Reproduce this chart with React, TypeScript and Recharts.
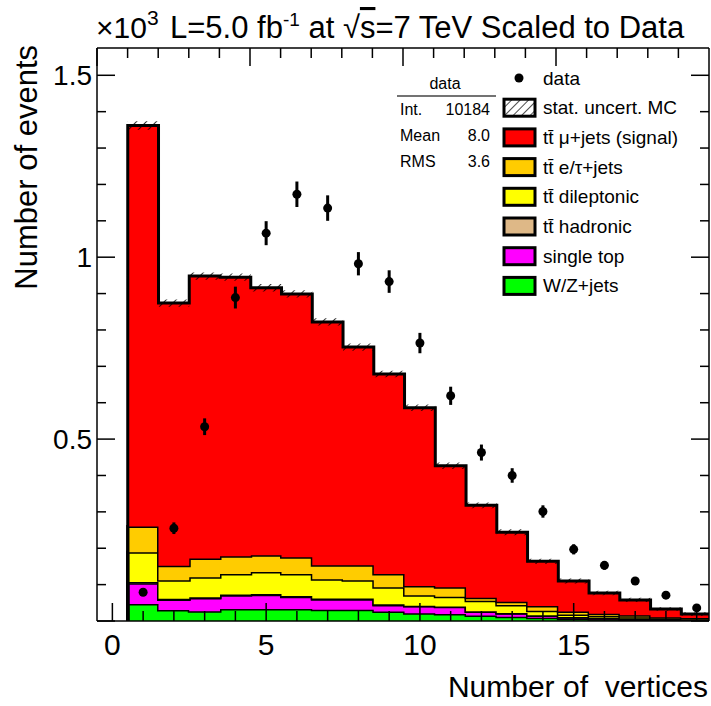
import React from "react"
import { ComposedChart, Area, Scatter, ErrorBar, XAxis, YAxis } from "recharts"

// number of vertices (bin centres), values in units of 10^3 events
const binCenters = [1, 2, 3, 4, 5, 6, 7, 8, 9, 10, 11, 12, 13, 14, 15, 16, 17, 18, 19]

const wzJets = [0.047, 0.030, 0.027, 0.033, 0.033, 0.033, 0.031, 0.031, 0.026, 0.021, 0.019, 0.015, 0.012, 0.009, 0.006, 0.005, 0.003, 0.002, 0.001]
const singleTop = [0.057, 0.029, 0.036, 0.038, 0.039, 0.034, 0.029, 0.029, 0.018, 0.020, 0.020, 0.011, 0.009, 0.006, 0.004, 0.003, 0.003, 0.002, 0.002]
const ttHadronic = [0.003, 0.002, 0.002, 0.002, 0.002, 0.002, 0.002, 0.002, 0.002, 0.001, 0.001, 0.001, 0.001, 0.001, 0.001, 0, 0, 0, 0]
const ttDileptonic = [0.082, 0.051, 0.055, 0.056, 0.061, 0.060, 0.053, 0.050, 0.047, 0.029, 0.027, 0.029, 0.022, 0.012, 0.007, 0.006, 0.004, 0.003, 0.002]
const ttETau = [0.071, 0.040, 0.052, 0.049, 0.046, 0.046, 0.038, 0.041, 0.036, 0.025, 0.026, 0.008, 0.009, 0.013, 0.008, 0.006, 0.006, 0.003, 0.003]
const ttMuJets = [1.102, 0.722, 0.776, 0.767, 0.735, 0.724, 0.669, 0.600, 0.550, 0.490, 0.334, 0.254, 0.191, 0.123, 0.084, 0.057, 0.042, 0.023, 0.011]
const mcStatErr = [0.012, 0.010, 0.010, 0.010, 0.010, 0.010, 0.010, 0.010, 0.009, 0.009, 0.009, 0.008, 0.008, 0.007, 0.007, 0.006, 0.006, 0.005, 0.005]

const dataCounts = [0.079, 0.255, 0.534, 0.889, 1.066, 1.173, 1.135, 0.982, 0.933, 0.764, 0.619, 0.463, 0.400, 0.301, 0.197, 0.153, 0.110, 0.071, 0.036]
const dataErr = [0.009, 0.016, 0.023, 0.030, 0.033, 0.035, 0.035, 0.032, 0.031, 0.028, 0.025, 0.022, 0.020, 0.017, 0.014, 0.012, 0.010, 0.008, 0.006]

const xTicks = [0, 1, 2, 3, 4, 5, 6, 7, 8, 9, 10, 11, 12, 13, 14, 15, 16, 17, 18, 19]
const xLabels = [0, 5, 10, 15]
const yTicks = [0, 0.1, 0.2, 0.3, 0.4, 0.5, 0.6, 0.7, 0.8, 0.9, 1, 1.1, 1.2, 1.3, 1.4, 1.5]
const yMajor = [0, 0.5, 1, 1.5]
const yLabels = [0.5, 1, 1.5]

const legendNames = ["data", "stat. uncert. MC", "tt\u0304 \u03bc+jets (signal)", "tt\u0304 e/\u03c4+jets", "tt\u0304 dileptonic", "tt\u0304 hadronic", "single top", "W/Z+jets"]
const statNames = ["Int.", "Mean", "RMS"]
const statValues = ["10184", "8.0", "3.6"]

const FONT = '"Liberation Sans", Arial, Helvetica, sans-serif'

// bottom of the stack first
const stack = [
  { key: "wz", values: wzJets, color: "#00ff00" },
  { key: "st", values: singleTop, color: "#ff00ff" },
  { key: "had", values: ttHadronic, color: "#deb887" },
  { key: "dil", values: ttDileptonic, color: "#ffff00" },
  { key: "etau", values: ttETau, color: "#ffcc00" },
  { key: "mu", values: ttMuJets, color: "#ff0000" },
]
const legendColors = ["#ff0000", "#ffcc00", "#ffff00", "#deb887", "#ff00ff", "#00ff00"]

// step rows at the lower bin edges (stepAfter), plus a zero row for the left edge
const edgeRows = binCenters.map((c, i) => {
  const row: any = { x: c - 0.5 }
  let total = 0
  stack.forEach(s => {
    row[s.key] = s.values[i]
    total += s.values[i]
  })
  row.band = [total - mcStatErr[i], total + mcStatErr[i]]
  return row
})
const zeroRow: any = { x: binCenters[0] - 0.5, band: null }
stack.forEach(s => (zeroRow[s.key] = 0))
const rows = [zeroRow, ...edgeRows, { ...edgeRows[edgeRows.length - 1], x: binCenters[binCenters.length - 1] + 0.5 }]

const points = binCenters.map((c, i) => ({ x: c, y: dataCounts[i], err: dataErr[i] }))

const BottomTick = (p: any) => {
  const v = p.payload.value
  const major = xLabels.includes(v)
  return (
    <g>
      <line x1={p.x} x2={p.x} y1={p.y} y2={p.y - (major ? 18 : 10)} stroke="#000" strokeWidth={1.5} />
      {major && (
        <text x={p.x} y={p.y + 34} textAnchor="middle" fontSize={30} fontFamily={FONT} fill="#000">
          {v}
        </text>
      )}
    </g>
  )
}

const TopTick = (p: any) => {
  const major = xLabels.includes(p.payload.value)
  return <line x1={p.x} x2={p.x} y1={p.y} y2={p.y + (major ? 18 : 10)} stroke="#000" strokeWidth={1.5} />
}

const LeftTick = (p: any) => {
  const v = p.payload.value
  const major = yMajor.includes(v)
  return (
    <g>
      <line x1={p.x} x2={p.x + (major ? 18 : 9)} y1={p.y} y2={p.y} stroke="#000" strokeWidth={1.5} />
      {yLabels.includes(v) && (
        <text x={p.x - 5} y={p.y + 10} textAnchor="end" fontSize={28} fontFamily={FONT} fill="#000">
          {String(v)}
        </text>
      )}
    </g>
  )
}

const RightTick = (p: any) => {
  const major = yMajor.includes(p.payload.value)
  return <line x1={p.x} x2={p.x - (major ? 18 : 9)} y1={p.y} y2={p.y} stroke="#000" strokeWidth={1.5} />
}

function Overlay() {
  const rowY = (i: number) => 78 + i * 29.7
  return (
    <svg width={711} height={706} style={{ position: "absolute", left: 0, top: 0, pointerEvents: "none" }} fontFamily={FONT}>
      <defs>
        <pattern id="hatchLeg" width="6" height="6" patternUnits="userSpaceOnUse" patternTransform="rotate(45)">
          <line x1="0" y1="0" x2="0" y2="6" stroke="#000" strokeWidth="1.4" />
        </pattern>
      </defs>
      <text x={96} y={38} fontSize={30} fill="#000">
        ×10<tspan dy={-13} fontSize={21}>3</tspan>
      </text>
      <text x={170} y={38} fontSize={31} fill="#000">
        L=5.0 fb<tspan dy={-12} fontSize={19}>-1</tspan>
        <tspan dy={12}> at √</tspan>
        <tspan textDecoration="overline">s</tspan>=7 TeV Scaled to Data
      </text>
      <text x={708} y={697} textAnchor="end" fontSize={30} fill="#000" style={{ whiteSpace: "pre" }}>
        Number of  vertices
      </text>
      <text transform="translate(37,45) rotate(-90)" x={0} y={0} textAnchor="end" fontSize={31} fill="#000">
        Number of events
      </text>

      {/* statistics box */}
      <text x={445} y={83} textAnchor="middle" dominantBaseline="central" fontSize={16} fill="#000">data</text>
      <line x1={397} x2={496} y1={96} y2={96} stroke="#444" strokeWidth={1.5} />
      {statNames.map((n, i) => (
        <g key={n}>
          <text x={400} y={109 + i * 26} dominantBaseline="central" fontSize={16} fill="#000">{n}</text>
          <text x={490} y={109 + i * 26} textAnchor="end" dominantBaseline="central" fontSize={16} fill="#000">{statValues[i]}</text>
        </g>
      ))}

      {/* legend */}
      <circle cx={519} cy={rowY(0)} r={4.5} fill="#000" />
      <rect x={504} y={rowY(1) - 8.5} width={31} height={17} fill="url(#hatchLeg)" stroke="#000" strokeWidth={3} />
      {legendColors.map((c, i) => (
        <rect key={c} x={504} y={rowY(i + 2) - 8.5} width={31} height={17} fill={c} stroke="#000" strokeWidth={3} />
      ))}
      {legendNames.map((n, i) => (
        <text key={n} x={543} y={rowY(i)} dominantBaseline="central" fontSize={19} fill="#000">{n}</text>
      ))}
    </svg>
  )
}

export default function App() {
  return (
    <div style={{ position: "absolute", left: 0, top: 0, width: 711, height: 706, background: "#fff" }}>
      <ComposedChart width={711} height={706} data={rows} margin={{ top: 47, right: 1, bottom: 0, left: 0 }}>
        <defs>
          <pattern id="hatch" width="7" height="7" patternUnits="userSpaceOnUse" patternTransform="rotate(45)">
            <line x1="0" y1="0" x2="0" y2="7" stroke="#000" strokeWidth="1.6" />
          </pattern>
        </defs>
        <XAxis
          dataKey="x"
          type="number"
          domain={[-0.5, 19.4]}
          allowDataOverflow
          ticks={xTicks}
          interval={0}
          height={85}
          tickSize={0}
          tickMargin={0}
          tickLine={false}
          axisLine={{ stroke: "#000", strokeWidth: 1.5 }}
          tick={BottomTick}
        />
        <XAxis
          xAxisId="top"
          orientation="top"
          type="number"
          domain={[-0.5, 19.4]}
          allowDataOverflow
          ticks={xTicks}
          interval={0}
          height={1}
          tickSize={0}
          tickMargin={0}
          tickLine={false}
          axisLine={{ stroke: "#000", strokeWidth: 1.5 }}
          tick={TopTick}
        />
        <YAxis
          type="number"
          domain={[0, 1.575]}
          allowDataOverflow
          ticks={yTicks}
          interval={0}
          width={97}
          tickSize={0}
          tickMargin={0}
          tickLine={false}
          axisLine={{ stroke: "#000", strokeWidth: 1.5 }}
          tick={LeftTick}
        />
        <YAxis
          yAxisId="right"
          orientation="right"
          type="number"
          domain={[0, 1.575]}
          allowDataOverflow
          ticks={yTicks}
          interval={0}
          width={1}
          tickSize={0}
          tickMargin={0}
          tickLine={false}
          axisLine={{ stroke: "#000", strokeWidth: 1.5 }}
          tick={RightTick}
        />
        {stack.map(s => (
          <Area
            key={s.key}
            dataKey={s.key}
            stackId="mc"
            type="stepAfter"
            fill={s.color}
            fillOpacity={1}
            stroke="#000"
            strokeWidth={3}
            dot={false}
            activeDot={false}
            isAnimationActive={false}
          />
        ))}
        <Area
          dataKey="band"
          type="stepAfter"
          fill="url(#hatch)"
          fillOpacity={1}
          stroke="none"
          dot={false}
          activeDot={false}
          isAnimationActive={false}
        />
        <Scatter
          data={points}
          dataKey="y"
          isAnimationActive={false}
          shape={(p: any) => <circle cx={p.cx} cy={p.cy} r={4.5} fill="#000" />}
        >
          <ErrorBar dataKey="err" direction="y" width={0} stroke="#000" strokeWidth={3} isAnimationActive={false} />
        </Scatter>
      </ComposedChart>
      <Overlay />
    </div>
  )
}
